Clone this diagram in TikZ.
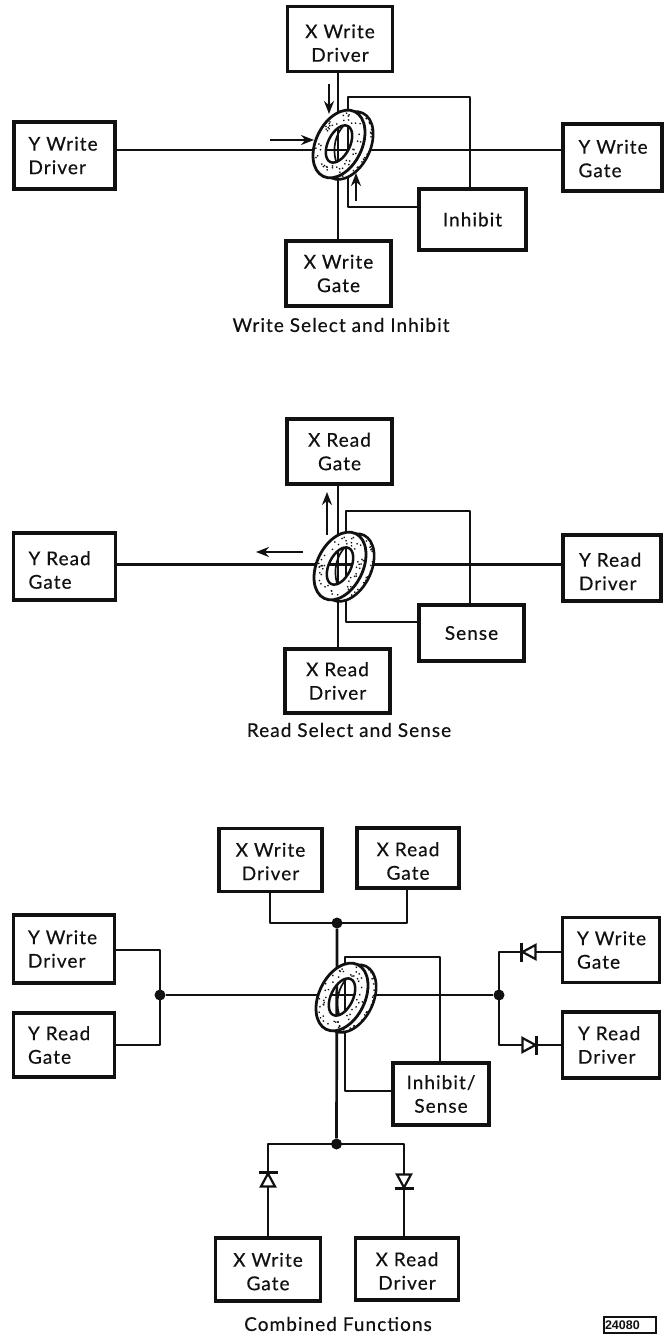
\documentclass[tikz,border=0pt]{standalone}
\usepackage{fontspec}
\setmainfont{Lato}[LetterSpace=5.5,FakeBold=0.4]
\usetikzlibrary{arrows.meta,calc}
\tikzset{
  box/.style={draw=inkc,line width=3.6pt,fill=white,inner sep=0pt,align=center,font=\boxfont,text=inkc},
  lbox/.style={box,align=left},
  wire/.style={draw=inkc,line width=2.7pt,line join=round},
  wirethin/.style={draw=inkc,line width=2.2pt,line join=round},
  flow/.style={draw=inkc,line width=2pt,-{Stealth[length=13pt,width=10pt]}},
  caption/.style={font=\capfont,text=inkc,inner sep=0pt},
  junction/.style={circle,fill=inkc,inner sep=0pt,minimum size=11pt},
  tag/.style={draw=inkc,line width=1.5pt,fill=white,inner sep=0pt,font=\tagfont,text=inkc,text depth=0pt},
}
\definecolor{inkc}{HTML}{111111}
\newcommand{\boxfont}{\fontsize{19pt}{23.5pt}\selectfont}
\newcommand{\capfont}{\fontsize{19pt}{22pt}\selectfont}
\newfontfamily\tagfam{Liberation Sans}
\newcommand{\tagfont}{\tagfam\bfseries\fontsize{12.5pt}{14pt}\selectfont}
\newcommand{\dn}[1]{\rule{0pt}{\dimexpr14pt+#1pt*2\relax}}
\newcommand{\toroid}[2]{%
  \begin{scope}[shift={(#1,#2)},rotate=64]
    \path[fill=white,even odd rule] (2.2pt,-8pt) ellipse [x radius=36pt,y radius=23pt]
       (0,0) ellipse [x radius=20pt,y radius=11pt];
    \draw[inkc,line width=2.6pt] (2.2pt,-8pt) ellipse [x radius=36pt,y radius=23pt];
    \foreach \i in {1,...,18}{
      \pgfmathsetmacro{\aa}{-170+rnd*160}
      \pgfmathsetmacro{\rr}{0.90+rnd*0.06}
      \pgfmathsetmacro{\dx}{2.2+36*\rr*cos(\aa)}
      \pgfmathsetmacro{\dy}{-8+23*\rr*sin(\aa)}
      \fill[inkc] (\dx pt,\dy pt) circle (0.95pt);
    }
    \path[fill=white,even odd rule] (0,0) ellipse [x radius=36pt,y radius=23pt]
       (0,0) ellipse [x radius=20pt,y radius=11pt];
    \draw[inkc,line width=2.8pt] (0,0) ellipse [x radius=36pt,y radius=23pt];
    \draw[inkc,line width=2.5pt] (0,0) ellipse [x radius=20pt,y radius=11pt];
    \draw[inkc,line width=1.7pt] (-17pt,-5pt) .. controls (-6pt,5pt) and (8pt,7pt) .. (18pt,4pt);
    \foreach \i in {1,...,48}{
      \pgfmathsetmacro{\aa}{rnd*360}
      \pgfmathsetmacro{\rr}{0.64+rnd*0.28}
      \pgfmathsetmacro{\dx}{36*\rr*cos(\aa)}
      \pgfmathsetmacro{\dy}{23*\rr*sin(\aa)}
      \fill[inkc] (\dx pt,\dy pt) circle (0.95pt);
    }
  \end{scope}}
\newcommand{\diode}[3]{%
  \begin{scope}[shift={(#1,#2)},rotate=#3]
    \draw[inkc,line width=2.2pt,fill=white,line join=miter] (-6.5pt,-7pt) -- (6.5pt,0pt) -- (-6.5pt,7pt) -- cycle;
    \draw[inkc,line width=3pt] (7.5pt,-9.5pt) -- (7.5pt,9.5pt);
  \end{scope}}
\begin{document}
\begin{tikzpicture}[x=1pt,y=-1pt]
\pgfmathsetseed{4108}
\useasboundingbox[fill=white] (0,0) rectangle (668,1335);
% ---------- Top ----------
\node[box,minimum width=105pt,minimum height=65pt] (xwd1) at (340,39) {\dn{4}X Write\\Driver};
\node[lbox,minimum width=101pt,minimum height=67pt] (ywd1) at (64.5,155.5) {\makebox[72pt][l]{Y Write}\\\makebox[72pt][l]{Driver}};
\node[box,minimum width=105pt,minimum height=65pt] (xwg1) at (338.5,273.5) {X Write\\Gate};
\node[lbox,minimum width=99pt,minimum height=67pt] (ywg1) at (612.5,157.5) {\dn{1}\makebox[68pt][l]{Y Write}\\\makebox[68pt][l]{Gate}};
\node[box,minimum width=107pt,minimum height=61pt] (inh1) at (472.5,219.5) {Inhibit};
\coordinate (t1a) at (348,97);
\coordinate (t1b) at (470,97);
\coordinate (t1c) at (348,207);
\coordinate (t1x) at (338,150);
\draw[wire] (xwd1.south -| t1x) -- (xwg1.north -| t1x);
\draw[wirethin] (ywd1.east |- t1x) -- (ywg1.west |- t1x);
\draw[wirethin] (inh1.north -| t1b) -- (t1b) -- (t1a) -- (t1c) -- (inh1.west |- t1c);
\toroid{339}{144}
\coordinate (f1a) at (329,84); \coordinate (f1b) at (329,114);
\coordinate (f2a) at (270,140); \coordinate (f2b) at (314,140);
\coordinate (f3a) at (356,201); \coordinate (f3b) at (356,173);
\draw[flow] (f1a) -- (f1b);
\draw[flow] (f2a) -- (f2b);
\draw[flow] (f3a) -- (f3b);
\node[caption] (cap1) at (341,325) {Write Select and Inhibit};
% ---------- Middle ----------
\node[box,minimum width=105pt,minimum height=65pt] (xrg2) at (339.5,451.5) {X Read\\Gate};
\node[lbox,minimum width=102pt,minimum height=67pt] (yrg2) at (64.5,566.5) {\dn{3.5}\makebox[72pt][l]{Y Read}\\\makebox[72pt][l]{Gate}};
\node[lbox,minimum width=98pt,minimum height=66pt] (yrd2) at (612,568) {\dn{3.5}\makebox[66pt][l]{Y Read}\\\makebox[66pt][l]{Driver}};
\node[box,minimum width=105pt,minimum height=56pt] (sen2) at (471.5,633) {Sense};
\node[box,minimum width=105pt,minimum height=64pt] (xrd2) at (337.5,681) {X Read\\Driver};
\coordinate (t2a) at (346,511);
\coordinate (t2b) at (470,511);
\coordinate (t2c) at (346,622);
\coordinate (t2x) at (338,564.5);
\draw[wire] (xrg2.south -| t2x) -- (xrd2.north -| t2x);
\draw[wirethin] (yrg2.east |- t2x) -- (yrd2.west |- t2x);
\draw[wirethin] (sen2.north -| t2b) -- (t2b) -- (t2a) -- (t2c) -- (sen2.west |- t2c);
\toroid{340}{566}
\coordinate (f4a) at (327,535); \coordinate (f4b) at (327,492);
\coordinate (f5a) at (303,552); \coordinate (f5b) at (256,552);
\draw[flow] (f4a) -- (f4b);
\draw[flow] (f5a) -- (f5b);
\node[caption] (cap2) at (349,730) {Read Select and Sense};
% ---------- Bottom ----------
\node[box,minimum width=103pt,minimum height=63pt] (xwd3) at (270.5,860) {\dn{1.5}X Write\\Driver};
\node[box,minimum width=102pt,minimum height=60pt] (xrg3) at (408,858) {\dn{3}X Read\\Gate};
\node[lbox,minimum width=101pt,minimum height=68pt] (ywd3) at (64,949) {\makebox[72pt][l]{Y Write}\\\makebox[72pt][l]{Driver}};
\node[lbox,minimum width=101pt,minimum height=64pt] (yrg3) at (64,1045) {\makebox[72pt][l]{Y Read}\\\makebox[72pt][l]{Gate}};
\node[lbox,minimum width=97pt,minimum height=65pt] (ywg3) at (611,950) {\makebox[68pt][l]{Y Write}\\\makebox[68pt][l]{Gate}};
\node[lbox,minimum width=97pt,minimum height=66pt] (yrd3) at (611,1045) {\makebox[66pt][l]{Y Read}\\\makebox[66pt][l]{Driver}};
\node[box,minimum width=96pt,minimum height=62pt] (inh3) at (441,1094) {Inhibit/\\Sense};
\node[box,minimum width=105pt,minimum height=63pt] (xwg3) at (268,1269.5) {\dn{2}X Write\\Gate};
\node[box,minimum width=103pt,minimum height=62pt] (xrd3) at (407,1269) {\dn{2}X Read\\Driver};
\node[junction] (j1) at (337,923) {};
\node[junction] (j2) at (336.5,1144) {};
\node[junction] (j3) at (160,995) {};
\node[junction] (j4) at (499,995) {};
\coordinate (t3a) at (345,957);
\coordinate (t3b) at (440,957);
\coordinate (t3c) at (345,1091);
\coordinate (a1) at (270,923);
\coordinate (a2) at (407,923);
\coordinate (b1) at (268,1144);
\coordinate (b2) at (404,1144);
\coordinate (c1) at (160,950);
\coordinate (c2) at (160,1045);
\coordinate (d1) at (499,952);
\coordinate (d2) at (499,1045);
\draw[wire] (xwd3.south -| a1) -- (a1) -- (a2) -- (xrg3.south -| a2);
\draw[wire] (j1) -- (j2);
\draw[wirethin] (j3) -- (j4);
\draw[wirethin] (ywd3.east |- c1) -- (c1) -- (c2) -- (yrg3.east |- c2);
\draw[wire] (ywg3.west |- d1) -- (d1) -- (d2) -- (yrd3.west |- d2);
\draw[wire] (xwg3.north -| b1) -- (b1) -- (b2) -- (xrd3.north -| b2);
\draw[wirethin] (inh3.north -| t3b) -- (t3b) -- (t3a) -- (t3c) -- (inh3.west |- t3c);
\toroid{342}{997}
\diode{529}{952}{180}
\diode{529}{1045}{0}
\diode{268}{1180}{90}
\diode{404}{1181}{-90}
\node[caption] (cap3) at (338,1324) {Combined Functions};
\node[tag,minimum width=52pt,minimum height=16pt,anchor=center] (tag) at (630,1325) {\makebox[50pt][l]{24080}};
\end{tikzpicture}
\end{document}
